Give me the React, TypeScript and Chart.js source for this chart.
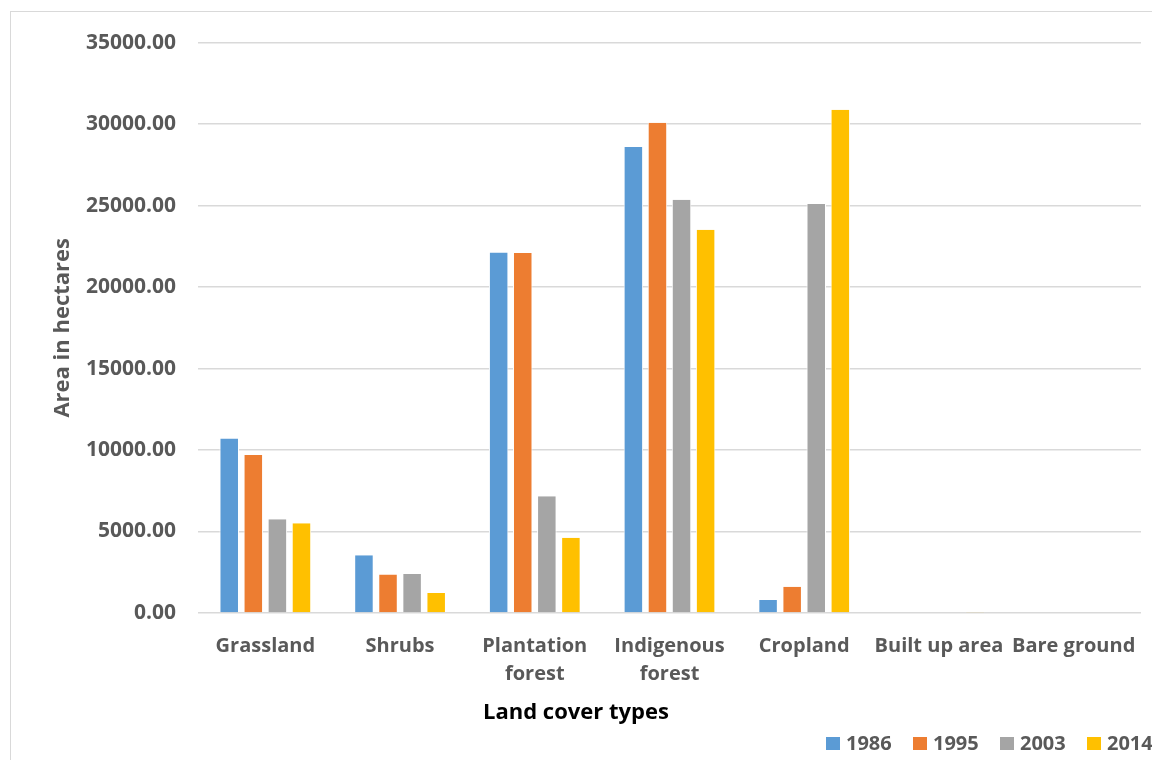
import React, { useEffect, useRef } from "react";
import { Chart, registerables } from "chart.js";

Chart.register(...registerables);

const categories: (string | string[])[] = [
  "Grassland",
  "Shrubs",
  ["Plantation", "forest"],
  ["Indigenous", "forest"],
  "Cropland",
  "Built up area",
  "Bare ground",
];

const years = ["1986", "1995", "2003", "2014"];
const values1986 = [10710, 3550, 22120, 28600, 800, 0, 0];
const values1995 = [9690, 2360, 22090, 30080, 1610, 0, 0];
const values2003 = [5750, 2390, 7160, 25350, 25100, 0, 0];
const values2014 = [5510, 1220, 4610, 23520, 30880, 60, 0];
const colors = ["#5b9bd5", "#ed7d31", "#a5a5a5", "#ffc000"];
const yTicks = [0, 5000, 10000, 15000, 20000, 25000, 30000, 35000];
const xTitle = "Land cover types";

const FONT = "'Open Sans', sans-serif";

const legendPlugin = {
  id: "customLegend",
  afterDraw(chart: any) {
    const ctx = chart.ctx;
    ctx.save();
    ctx.font = `bold 22px ${FONT}`;
    ctx.textBaseline = "middle";
    ctx.textAlign = "center";
    ctx.fillStyle = "#000000";
    ctx.fillText(xTitle, 568, 705);
    ctx.font = `bold 20px ${FONT}`;
    ctx.textAlign = "left";
    const startX = 818;
    const step = 87;
    const cy = 735;
    chart.data.datasets.forEach((ds: any, i: number) => {
      const x = startX + i * step;
      ctx.fillStyle = ds.backgroundColor;
      ctx.fillRect(x, cy - 6, 14, 13);
      ctx.fillStyle = "#595959";
      ctx.fillText(ds.label, x + 20, cy + 1);
    });
    ctx.restore();
  },
};

export default function App() {
  const ref = useRef<HTMLCanvasElement | null>(null);
  useEffect(() => {
    document.body.style.overflow = "hidden";
    const seriesList = [values1986, values1995, values2003, values2014];
    const chart = new Chart(ref.current!, {
      type: "bar",
      data: {
        labels: categories,
        datasets: years.map((y, i) => ({
          label: y,
          data: seriesList[i],
          backgroundColor: colors[i],
          borderColor: "#ffffff",
          borderWidth: { left: 1, right: 1, top: 0, bottom: 0 },
          categoryPercentage: 0.715,
          barPercentage: 0.81,
        })),
      },
      options: {
        responsive: false,
        animation: false,
        devicePixelRatio: 1,
        layout: { padding: { left: 42, right: 19, top: 22, bottom: 30 } },
        plugins: {
          legend: { display: false },
          tooltip: { enabled: false },
        },
        scales: {
          x: {
            afterFit: (scale: any) => {
              scale.height = 117;
            },
            grid: { display: false, drawTicks: false },
            border: { display: false },
            ticks: {
              color: "#595959",
              font: { family: FONT, size: 20, weight: "bold", lineHeight: 1.4 },
              padding: 19,
              maxRotation: 0,
              autoSkip: false,
            },
          },
          y: {
            min: 0,
            max: 35000,
            afterBuildTicks: (scale: any) => {
              scale.ticks = yTicks.map((v) => ({ value: v }));
            },
            afterFit: (scale: any) => {
              scale.width = 148;
            },
            grid: { color: "#d9d9d9", lineWidth: 1.5, drawTicks: false },
            border: { display: false },
            ticks: {
              color: "#595959",
              font: { family: FONT, size: 21, weight: "bold" },
              padding: 22,
              callback: (v: any) => Number(v).toFixed(2),
            },
            title: {
              display: true,
              text: "Area in hectares",
              color: "#595959",
              font: { family: FONT, size: 22, weight: "bold" },
              padding: { top: 0, bottom: 0 },
            },
          },
        },
      },
      plugins: [legendPlugin],
    });
    return () => chart.destroy();
  }, []);
  return (
    <div style={{ position: "relative", width: 1152, height: 752 }}>
      <div
        style={{
          position: "absolute",
          left: 2,
          top: 3,
          width: 1160,
          height: 760,
          borderLeft: "1px solid #d9d9d9",
          borderTop: "1px solid #d9d9d9",
          boxSizing: "border-box",
        }}
      />
      <canvas
        ref={ref}
        width={1152}
        height={752}
        style={{ position: "absolute", left: 0, top: 0, width: 1152, height: 752 }}
      />
    </div>
  );
}
